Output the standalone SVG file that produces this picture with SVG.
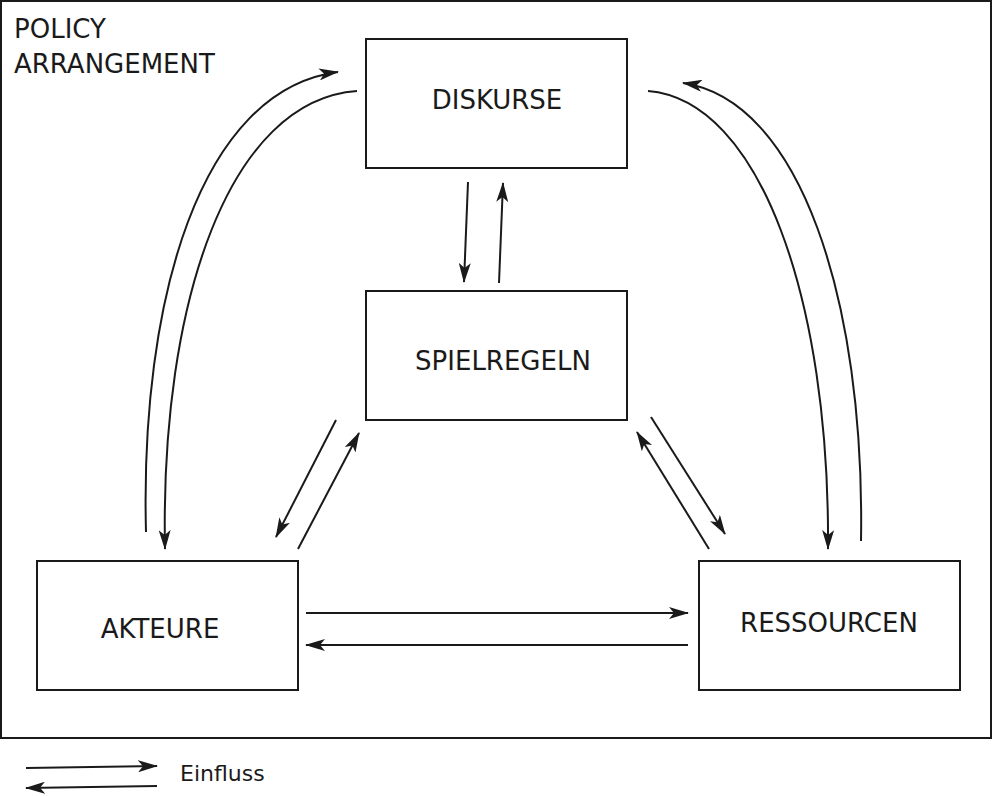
<svg xmlns="http://www.w3.org/2000/svg" width="992" height="796" viewBox="0 0 992 796">
<style>
.box{fill:#fff;stroke:#1a1a1a;stroke-width:2}
.t{font-family:"DejaVu Sans",sans-serif;font-size:26px;fill:#1a1a1a}
.c{fill:none;stroke:#1a1a1a;stroke-width:2;marker-end:url(#ah)}
</style>
<defs><marker id="ah" viewBox="0 0 10 10" refX="9" refY="5" markerWidth="9" markerHeight="9" markerUnits="userSpaceOnUse" orient="auto"><path d="M0,0 L10,5 L0,10 L3,5 z" fill="#1a1a1a"/></marker>
<marker id="ah2" viewBox="0 0 20 12" refX="19" refY="6" markerWidth="20" markerHeight="12" markerUnits="userSpaceOnUse" orient="auto"><path d="M0,0 L20,6 L0,12 L5,6 z" fill="#1a1a1a"/></marker></defs>
<rect x="1" y="1" width="990" height="737" fill="#fff" stroke="#1a1a1a" stroke-width="2"/>
<text class="t" x="14" y="38">POLICY</text>
<text class="t" x="14" y="73">ARRANGEMENT</text>
<g id="diskurse"><rect class="box" x="366" y="39" width="261" height="129"/><text class="t" x="497" y="109" text-anchor="middle">DISKURSE</text></g>
<g id="spielregeln"><rect class="box" x="366" y="291" width="261" height="129"/><text class="t" x="503" y="370" text-anchor="middle">SPIELREGELN</text></g>
<g id="akteure"><rect class="box" x="37" y="561" width="261" height="129"/><text class="t" x="160" y="638" text-anchor="middle">AKTEURE</text></g>
<g id="ressourcen"><rect class="box" x="699" y="561" width="261" height="129"/><text class="t" x="829" y="632" text-anchor="middle">RESSOURCEN</text></g>
<g id="connectors" style="--m:url(#ah2)">
<path class="c" style="marker-end:url(#ah2)" d="M146,532 C140,300 200,90 338,72"/>
<path class="c" style="marker-end:url(#ah2)" d="M357,91 C230,100 160,300 165,549"/>
<path class="c" style="marker-end:url(#ah2)" d="M648,91 C760,100 830,300 828,549"/>
<path class="c" style="marker-end:url(#ah2)" d="M861,541 C865,300 800,100 683,83"/>
<path class="c" style="marker-end:url(#ah2)" d="M468,182 L464,282"/>
<path class="c" style="marker-end:url(#ah2)" d="M499,283 L503,183"/>
<path class="c" style="marker-end:url(#ah2)" d="M336,420 L276,537"/>
<path class="c" style="marker-end:url(#ah2)" d="M298,549 L359,433"/>
<path class="c" style="marker-end:url(#ah2)" d="M651,417 L725,534"/>
<path class="c" style="marker-end:url(#ah2)" d="M709,549 L637,432"/>
<path class="c" style="marker-end:url(#ah2)" d="M306,613 L688,613"/>
<path class="c" style="marker-end:url(#ah2)" d="M688,645 L306,645"/>
<path class="c" style="marker-end:url(#ah2)" d="M26,768 L157,766"/>
<path class="c" style="marker-end:url(#ah2)" d="M157,786 L26,788"/>
</g>
<text x="180" y="781" style="font-family:'DejaVu Sans',sans-serif;font-size:22px;fill:#1a1a1a">Einfluss</text>
</svg>
